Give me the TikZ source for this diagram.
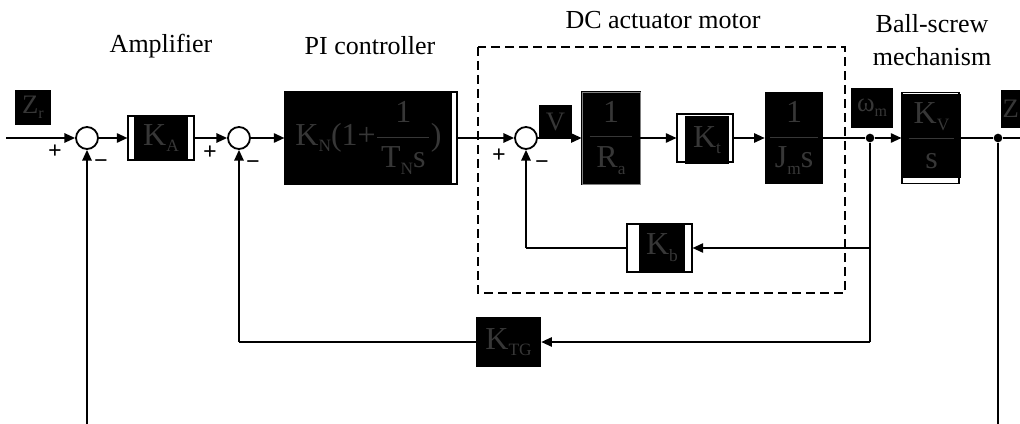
\documentclass[tikz,border=0pt]{standalone}
\usepackage{fontspec}
\setmainfont{Liberation Serif}
\setmathrm{Liberation Serif}
\usetikzlibrary{arrows.meta}
\definecolor{boxtxt}{RGB}{55,55,55}
\newcommand{\sbs}[1]{\raisebox{-5pt}{\fontsize{13}{13}\selectfont #1}}
\newcommand{\sbl}[1]{\raisebox{-4pt}{\fontsize{12}{12}\selectfont #1}}
\newcommand{\bfnt}{\fontsize{24}{28}\selectfont}
\newcommand{\lfnt}{\fontsize{20}{24}\selectfont}
\newcommand{\myfr}[2]{$\displaystyle\frac{#1}{#2}$}
\tikzset{
  lin/.style={line width=1.35pt},
  arr/.style={line width=1.35pt,-{Triangle[length=8pt,width=7pt]}},
  frm/.style={draw=black, line width=0.8pt, fill=white, inner sep=0pt},
  blk/.style={fill=black, inner sep=0pt, text=boxtxt, font=\bfnt},
  lblbox/.style={fill=black, inner sep=0pt, text=boxtxt, font=\lfnt},
  sumc/.style={circle, draw, line width=1.35pt, minimum size=16.5pt, inner sep=0pt, fill=white},
  dotn/.style={circle, fill=black, minimum size=6.5pt, inner sep=0pt},
  ttl/.style={font=\fontsize{19.5}{23}\selectfont, inner sep=0pt},
  sgn/.style={font=\bfseries\fontsize{18}{18}\selectfont, inner sep=0pt},
  dashbox/.style={line width=2.1pt, dash pattern=on 7pt off 3.5pt}
}
\begin{document}
\begin{tikzpicture}[x=0.75pt,y=-0.75pt]
\clip (0,0) rectangle (1020,424);
\fill[white] (0,0) rectangle (1020,424);

% titles
\node[ttl] (tA) at (161,46) {Amplifier};
\node[ttl] (tPI) at (370,46) {PI controller};
\node[ttl] (tDC) at (663,20) {DC actuator motor};
\node[ttl] (tBS1) at (932,24) {Ball-screw};
\node[ttl] (tBS2) at (932,57) {mechanism};

% dashed motor box
\draw[dashbox] (478,47) rectangle (845,293);

% coordinates
\coordinate (in) at (6,138);
\coordinate (out) at (1025,138);
\coordinate (bl) at (87,430);
\coordinate (br) at (998,430);
\coordinate (c1) at (870,342);
\coordinate (c2) at (870,248);
\coordinate (c3) at (526,248);
\coordinate (c4) at (239,342);

% labels
\node[lblbox, minimum width=27pt, minimum height=26.25pt] (zr) at (33,107.5) {Z\sbl{r}};
\node[lblbox, minimum width=24.75pt, minimum height=25.5pt] (vl) at (555.5,122) {V};
\node[lblbox, minimum width=31.5pt, minimum height=30pt] (wm) at (872,108) {ω\sbl{m}};
\node[lblbox, anchor=west, inner xsep=1pt, minimum width=30pt, minimum height=28.5pt, align=left, text width=28pt] (zl) at (1001,109) {Z};

% summing junctions
\node[sumc] (s1) at (87,138) {};
\node[sumc] (s2) at (239,138) {};
\node[sumc] (s3) at (526,138) {};

% signs
\node[sgn] (p1) at (55,152) {+};
\node[sgn] (m1) at (101,164) {−};
\node[sgn] (p2) at (210,153) {+};
\node[sgn] (m2) at (253,165) {−};
\node[sgn] (p3) at (499,156) {+};
\node[sgn] (m3) at (542,165) {−};

% K_A
\node[frm, minimum width=49.5pt, minimum height=33pt] (KAf) at (161,138) {};
\node[blk, minimum width=40.5pt, minimum height=34.5pt] (KA) at (161,138) {K\sbs{A}};

% PI controller
\node[frm, minimum width=129pt, minimum height=69pt] (PIf) at (371,138) {};
\node[blk, minimum width=125.25pt, minimum height=69pt] (PI) at (368.5,138)
  {K\sbs{N}(1+\myfr{\makebox[39pt]{1}}{\mbox{T\sbs{N}s}})};

% 1/Ra
\node[blk, draw=black, double=gray, line width=0.5pt, double distance=0.4pt,
      minimum width=43.5pt, minimum height=69pt] (Ra) at (611,138)
  {\myfr{\makebox[32pt]{1}}{\mbox{R\sbs{a}}}};

% K_t
\node[frm, minimum width=42pt, minimum height=36pt] (Ktf) at (705,138) {};
\node[blk, minimum width=33pt, minimum height=36pt] (Kt) at (707,140) {K\sbs{t}};

% 1/(Jm s)
\node[blk, minimum width=43.5pt, minimum height=69pt] (Jm) at (794,138)
  {\myfr{\makebox[36pt]{1}}{\mbox{J\sbs{m}s}}};

% K_V / s
\node[frm, minimum width=42.75pt, minimum height=68.25pt] (KVf) at (930.5,138) {};
\node[blk, minimum width=44.25pt, minimum height=63pt] (KV) at (931.5,136)
  {\myfr{\makebox[34pt]{K\sbs{V}}}{\mbox{s}}};

% K_b
\node[frm, minimum width=48.75pt, minimum height=36pt] (Kbf) at (659.5,248) {};
\node[blk, minimum width=34.5pt, minimum height=36.75pt] (Kb) at (662,247.5) {K\sbs{b}};

% K_TG
\node[blk, minimum width=48.75pt, minimum height=37.5pt] (KTG) at (508.5,342) {K\sbs{TG}};

% branch dots
\node[dotn] (d1) at (870,138) {};
\node[dotn] (d2) at (998,138) {};

% forward path
\draw[arr] (in) -- (s1);
\draw[arr] (s1) -- (KAf);
\draw[arr] (KAf) -- (s2);
\draw[arr] (s2) -- (PIf);
\draw[arr] (PIf) -- (s3);
\draw[arr] (s3) -- (Ra);
\draw[arr] (Ra) -- (Ktf);
\draw[arr] (Ktf) -- (Jm);
\draw[lin] (Jm) -- (d1);
\draw[arr] (d1) -- (KVf);
\draw[lin] (KV.east |- d2) -- (d2) -- (out);

% feedback paths
\draw[lin] (d2) -- (br);
\draw[arr] (bl) -- (s1);
\draw[lin] (d1) -- (c1);
\draw[arr] (c2) -- (Kbf);
\draw[lin] (Kbf) -- (c3);
\draw[arr] (c3) -- (s3);
\draw[arr] (c1) -- (KTG);
\draw[lin] (KTG) -- (c4);
\draw[arr] (c4) -- (s2);
\end{tikzpicture}
\end{document}
